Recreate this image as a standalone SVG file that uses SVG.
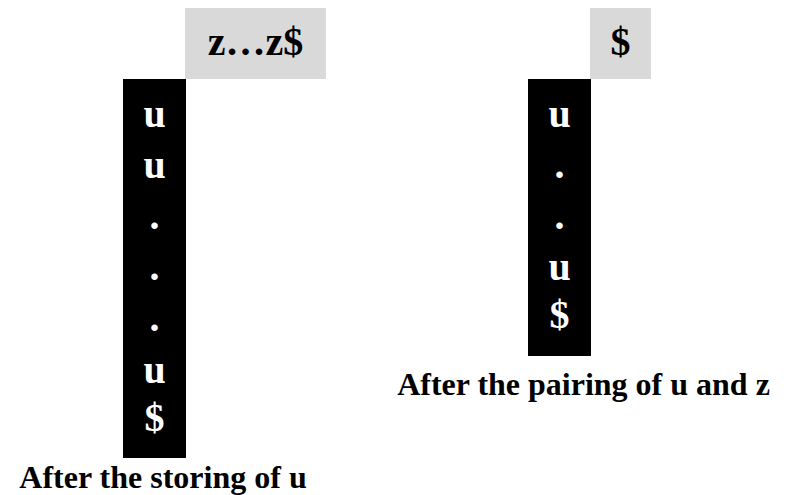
<svg xmlns="http://www.w3.org/2000/svg" width="787" height="495" viewBox="0 0 787 495">
<style>
text{font-family:"Liberation Serif","Times New Roman",serif;font-weight:bold;text-anchor:middle}
.g{fill:#d9d9d9}
.b{fill:#000}
.w{fill:#fff;font-size:40px}
.k{fill:#000;font-size:40px}
.cap{fill:#000;font-size:32px}
</style>
<rect width="787" height="495" fill="#fff"/>
<g id="left-input">
<rect class="g" x="185" y="8" width="141" height="71"/>
<text class="k" x="255.5" y="55">z…z$</text>
</g>
<g id="left-stack">
<rect class="b" x="123" y="79" width="63" height="379"/>
<text class="w" x="154.5" y="127">u</text>
<text class="w" x="154.5" y="178">u</text>
<text class="w" x="154.5" y="229">.</text>
<text class="w" x="154.5" y="280">.</text>
<text class="w" x="154.5" y="331">.</text>
<text class="w" x="154.5" y="383">u</text>
<text class="w" x="154.5" y="431">$</text>
</g>
<g id="left-caption">
<text class="cap" x="163" y="488">After the storing of u</text>
</g>
<g id="right-input">
<rect class="g" x="590" y="8" width="61" height="71"/>
<text class="k" x="620.5" y="55">$</text>
</g>
<g id="right-stack">
<rect class="b" x="528" y="79" width="63" height="277"/>
<text class="w" x="559.5" y="127">u</text>
<text class="w" x="559.5" y="178">.</text>
<text class="w" x="559.5" y="229">.</text>
<text class="w" x="559.5" y="280">u</text>
<text class="w" x="559.5" y="328">$</text>
</g>
<g id="right-caption">
<text class="cap" x="583.5" y="395">After the pairing of u and z</text>
</g>
</svg>
